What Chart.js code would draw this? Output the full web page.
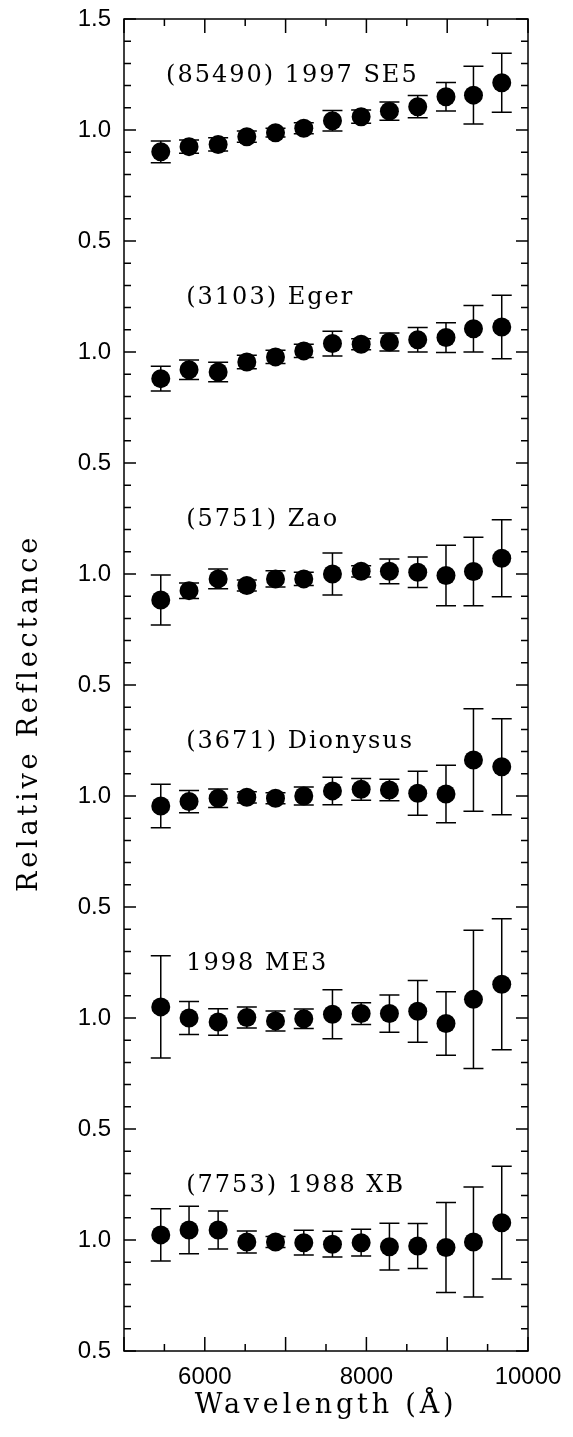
<!DOCTYPE html>
<html>
<head>
<meta charset="utf-8">
<script src="https://cdn.jsdelivr.net/npm/chart.js@4/dist/chart.umd.min.js"></script>
<style>
html,body{margin:0;padding:0;background:#fff;}
#wrap{width:573px;height:1437px;position:relative;}
canvas{display:block;}
</style>
</head>
<body>
<div id="wrap"><canvas id="c" width="573" height="1437"></canvas></div>
<script>
// ---------- data ----------
const wavelengths = [5455, 5805, 6165, 6520, 6875, 7225, 7580, 7935, 8285, 8635, 8985, 9325, 9675];
const names = ["(85490) 1997 SE5", "(3103) Eger", "(5751) Zao", "(3671) Dionysus", "1998 ME3", "(7753) 1988 XB"];

const se5      = [0.902, 0.925, 0.935, 0.970, 0.988, 1.008, 1.042, 1.060, 1.085, 1.105, 1.150, 1.157, 1.213];
const se5Err   = [0.049, 0.030, 0.030, 0.025, 0.020, 0.025, 0.046, 0.030, 0.041, 0.050, 0.064, 0.130, 0.133];

const eger     = [0.880, 0.920, 0.910, 0.955, 0.978, 1.005, 1.038, 1.035, 1.045, 1.055, 1.065, 1.105, 1.113];
const egerErr  = [0.056, 0.044, 0.044, 0.030, 0.030, 0.030, 0.056, 0.025, 0.041, 0.055, 0.067, 0.105, 0.143];

const zao      = [0.883, 0.925, 0.978, 0.948, 0.978, 0.978, 1.000, 1.012, 1.012, 1.008, 0.993, 1.011, 1.071];
const zaoErr   = [0.113, 0.035, 0.045, 0.025, 0.037, 0.030, 0.095, 0.025, 0.056, 0.069, 0.136, 0.154, 0.173];

const dionysus    = [0.955, 0.975, 0.990, 0.994, 0.990, 1.000, 1.023, 1.030, 1.027, 1.012, 1.009, 1.162, 1.132];
const dionysusErr = [0.098, 0.050, 0.042, 0.025, 0.025, 0.040, 0.062, 0.049, 0.048, 0.099, 0.130, 0.231, 0.216];

const me3      = [1.050, 1.000, 0.982, 1.002, 0.987, 0.997, 1.017, 1.020, 1.020, 1.030, 0.975, 1.084, 1.152];
const me3Err   = [0.230, 0.074, 0.060, 0.047, 0.045, 0.044, 0.110, 0.049, 0.084, 0.139, 0.143, 0.311, 0.295];

const xb       = [1.023, 1.045, 1.045, 0.991, 0.991, 0.988, 0.981, 0.988, 0.970, 0.973, 0.966, 0.991, 1.078];
const xbErr    = [0.118, 0.107, 0.086, 0.050, 0.025, 0.056, 0.058, 0.060, 0.105, 0.101, 0.203, 0.248, 0.254];

const series = [se5, eger, zao, dionysus, me3, xb];
const errors = [se5Err, egerErr, zaoErr, dionysusErr, me3Err, xbErr];

// ---------- display config ----------
const OFFSET = 1.0;           // vertical shift between stacked spectra
const SERIF = '"DejaVu Serif", "Liberation Serif", serif';
const SANS = '"Liberation Sans", Arial, sans-serif';

const datasets = series.map((vals, k) => ({
  label: names[k],
  data: vals.map((v, i) => ({x: wavelengths[i], y: v - k * OFFSET})),
  errs: errors[k],
  backgroundColor: '#000',
  borderColor: '#000',
  borderWidth: 0,
  pointRadius: 9.5,
  pointHoverRadius: 9.5,
  showLine: false
}));

const errorBars = {
  id: 'errorBars',
  beforeDatasetsDraw(chart) {
    const ctx = chart.ctx, xs = chart.scales.x, ys = chart.scales.y;
    ctx.save();
    ctx.strokeStyle = '#000';
    ctx.lineWidth = 1.5;
    chart.data.datasets.forEach(ds => {
      ds.data.forEach((p, i) => {
        const e = ds.errs[i];
        const px = xs.getPixelForValue(p.x);
        const y1 = ys.getPixelForValue(p.y + e);
        const y2 = ys.getPixelForValue(p.y - e);
        ctx.beginPath();
        ctx.moveTo(px, y1); ctx.lineTo(px, y2);
        ctx.moveTo(px - 10, y1); ctx.lineTo(px + 10, y1);
        ctx.moveTo(px - 10, y2); ctx.lineTo(px + 10, y2);
        ctx.stroke();
      });
    });
    ctx.restore();
  }
};

const frameTicks = {
  id: 'frameTicks',
  afterDraw(chart) {
    const ctx = chart.ctx, xs = chart.scales.x, ys = chart.scales.y;
    const {left, right, top, bottom} = chart.chartArea;
    ctx.save();
    ctx.strokeStyle = '#000';
    ctx.lineWidth = 1.5;
    ctx.strokeRect(left, top, right - left, bottom - top);
    ctx.beginPath();
    for (let n = Math.round(ys.min * 10); n <= Math.round(ys.max * 10); n++) {
      const py = ys.getPixelForValue(n / 10);
      const len = (n % 5 === 0) ? 12 : 7;
      ctx.moveTo(left, py); ctx.lineTo(left + len, py);
      ctx.moveTo(right, py); ctx.lineTo(right - len, py);
    }
    for (let n = Math.round(xs.min / 500); n <= Math.round(xs.max / 500); n++) {
      const px = xs.getPixelForValue(n * 500);
      const len = (n % 2 === 0) ? 14 : 7;
      ctx.moveTo(px, top); ctx.lineTo(px, top + len);
      ctx.moveTo(px, bottom); ctx.lineTo(px, bottom - len);
    }
    ctx.stroke();
    ctx.restore();
  }
};

const nameLabels = {
  id: 'nameLabels',
  afterDatasetsDraw(chart, args, opts) {
    const ctx = chart.ctx, xs = chart.scales.x, ys = chart.scales.y;
    ctx.save();
    ctx.fillStyle = '#000';
    ctx.font = '24px ' + SERIF;
    ctx.textAlign = 'left';
    ctx.textBaseline = 'middle';
    ctx.letterSpacing = '2px';
    names.forEach((t, k) => {
      const x = xs.getPixelForValue(opts.xAt[k]);
      const y = ys.getPixelForValue(opts.yAt - k * OFFSET);
      ctx.fillText(t, x, y);
    });
    ctx.restore();
  }
};

const titleSpacing = {
  id: 'titleSpacing',
  beforeDraw(chart) {
    ['x', 'y'].forEach(id => {
      const s = chart.scales[id];
      if (s && !s._spaced) {
        const orig = s.drawTitle.bind(s);
        s.drawTitle = function () {
          const ctx = this.ctx;
          ctx.save();
          ctx.letterSpacing = '3.8px';
          if (id === 'y') ctx.translate(0, 28);
          orig();
          ctx.restore();
        };
        s._spaced = true;
      }
    });
  }
};

new Chart(document.getElementById('c'), {
  type: 'scatter',
  data: {datasets},
  options: {
    responsive: false,
    devicePixelRatio: 1,
    animation: false,
    events: [],
    layout: {padding: {top: 19, right: 45, left: 0, bottom: 0}},
    plugins: {
      legend: {display: false},
      tooltip: {enabled: false},
      nameLabels: {xAt: [5520, 5770, 5770, 5770, 5770, 5770], yAt: 1.245}
    },
    scales: {
      x: {
        type: 'linear',
        min: 5000, max: 10000,
        grid: {display: false, drawTicks: false},
        border: {display: false},
        afterFit(s) { s.height = 86; s.paddingLeft = 0; s.paddingRight = 0; },
        ticks: {
          stepSize: 1000,
          autoSkip: false,
          maxRotation: 0,
          padding: 12,
          color: '#000',
          font: {family: SANS, size: 24},
          callback: v => (Math.round(v) % 2000 === 0 ? String(Math.round(v)) : '')
        },
        title: {
          display: true,
          text: 'Wavelength (Å)',
          color: '#000',
          font: {family: SERIF, size: 27},
          padding: {top: 0, bottom: 15}
        }
      },
      y: {
        type: 'linear',
        min: -4.5, max: 1.5,
        grid: {display: false, drawTicks: false},
        border: {display: false},
        afterFit(s) { s.width = 124; s.paddingTop = 0; s.paddingBottom = 0; },
        ticks: {
          stepSize: 0.5,
          autoSkip: false,
          padding: 13,
          color: '#000',
          font: {family: SANS, size: 24},
          callback: v => {
            const n = Math.round(v * 10);
            if (n % 5 !== 0) return '';
            if (n === 15) return '1.5';
            return (n % 10 === 0) ? '1.0' : '0.5';
          }
        },
        title: {
          display: true,
          text: 'Relative Reflectance',
          color: '#000',
          font: {family: SERIF, size: 27},
          padding: {top: 14, bottom: 0}
        }
      }
    }
  },
  plugins: [errorBars, frameTicks, nameLabels, titleSpacing]
});
</script>
</body>
</html>
